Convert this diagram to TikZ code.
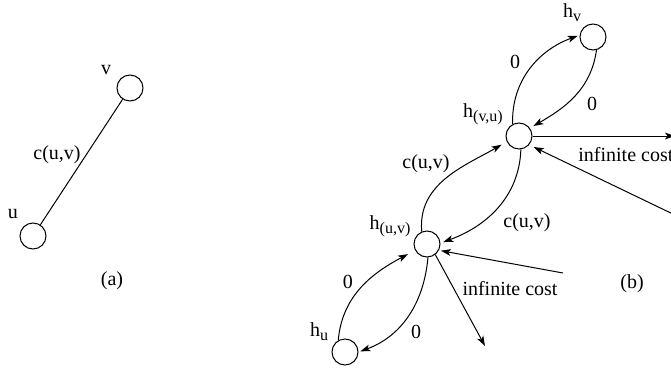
\documentclass[tikz,border=0pt]{standalone}
\usepackage{fontspec}
\setmainfont{Liberation Serif}
\usetikzlibrary{arrows.meta}
\newcommand{\subtxt}[1]{\raisebox{-2pt}{\fontsize{8}{8}\selectfont #1}}
\begin{document}
\begin{tikzpicture}[x=0.5pt,y=-0.5pt,
  vert/.style={circle,draw,line width=0.5pt,minimum size=13pt,inner sep=0pt},
  lbl/.style={inner sep=0pt,font=\fontsize{10}{12}\selectfont},
  edge/.style={line width=0.5pt},
  arr/.style={line width=0.5pt,-{Stealth[length=5pt,width=3.4pt,inset=1.3pt]}}]
\useasboundingbox (0,0) rectangle (671,370);
\clip (0,0) rectangle (671,370);
% (a)
\node[vert] (v) at (130,88) {};
\node[vert] (u) at (33,236) {};
\draw[edge] (u) -- (v);
\node[lbl] (lv) at (106,70) {v};
\node[lbl] (lu) at (13,214) {u};
\node[lbl] (lc) at (57,155) {c(u,v)};
\node[lbl] (la) at (112,281) {(a)};
% (b)
\node[vert] (hv) at (593,37) {};
\node[vert] (hvu) at (519,136) {};
\node[vert] (huv) at (427,244) {};
\node[vert] (hu) at (345,352) {};
\coordinate (c0) at (675,136);
\coordinate (c1) at (677,216);
\coordinate (c2) at (563,273);
\coordinate (c3) at (485,346);
\node[lbl] (lhv) at (572,13) {h\subtxt{v}};
\node[lbl] (lhvu) at (483,114) {h\subtxt{(v,u)}};
\node[lbl] (lhuv) at (390,226) {h\subtxt{(u,v)}};
\node[lbl] (lhu) at (319,332) {h\subtxt{u}};
% curves
\draw[arr,shorten >=4pt] (hu.120) to[out=85,in=208] (huv.208);
\draw[arr,shorten >=1pt] (huv.274) to[out=265,in=20] (hu.0);
\draw[arr,shorten >=3pt] (huv.113) to[out=95,in=210] (hvu.205);
\draw[arr,shorten >=1.5pt] (hvu.278) to[out=268,in=20] (huv.4);
\draw[arr,shorten >=1pt] (hvu.118) to[out=92,in=200] (hv.172);
\draw[arr,shorten >=2pt] (hv.285) to[out=262,in=30] (hvu.36);
% straight
\draw[arr] (hvu.east) -- (c0);
\draw[arr,shorten >=2.5pt] (c1) -- (hvu.319);
\draw[arr,shorten >=1pt] (c2) -- (huv.332);
\draw[arr] (huv.308) -- (c3);
% labels
\node[lbl] (z1) at (348,282) {0};
\node[lbl] (z2) at (416,332) {0};
\node[lbl] (z3) at (515,62) {0};
\node[lbl] (z4) at (592,104) {0};
\node[lbl] (cu1) at (426,164) {c(u,v)};
\node[lbl] (cu2) at (527,223) {c(u,v)};
\node[lbl,anchor=west] (ic1) at (578,155) {infinite cost};
\node[lbl] (ic2) at (510,289) {infinite cost};
\node[lbl] (lb) at (632,284) {(b)};
\end{tikzpicture}
\end{document}
